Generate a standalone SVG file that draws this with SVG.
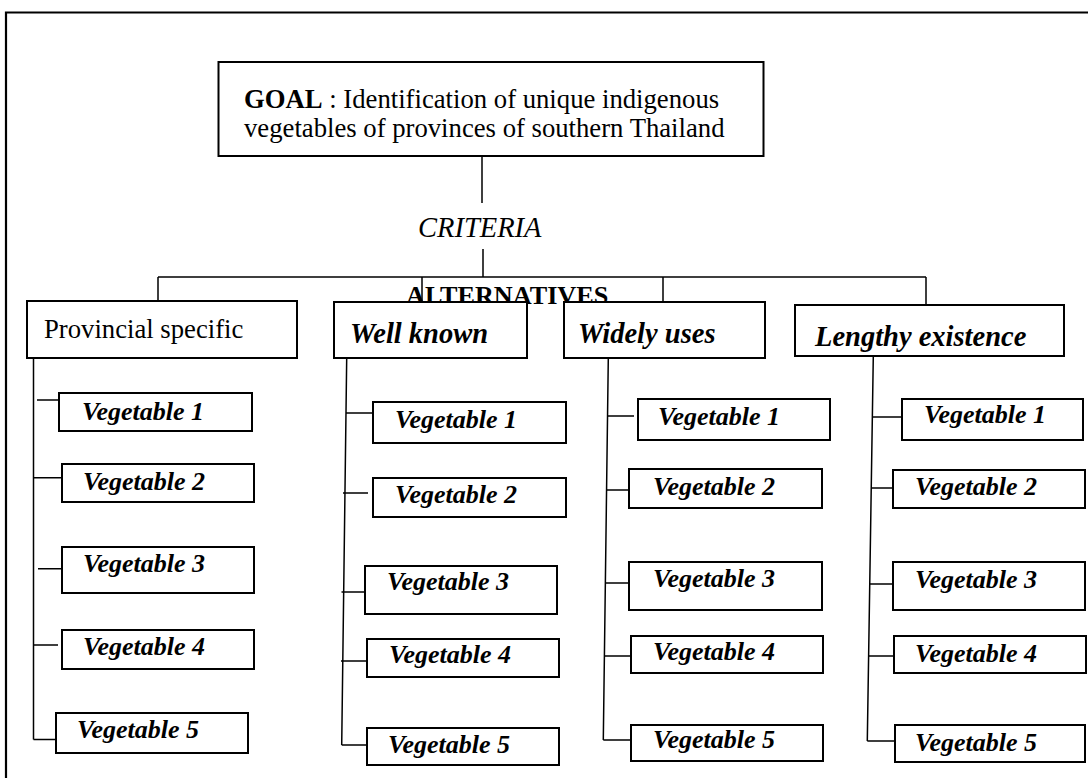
<svg xmlns="http://www.w3.org/2000/svg" width="1088" height="778" viewBox="0 0 1088 778">
<style>
.bx{fill:#fff;stroke:#000;stroke-width:2}
.ln{fill:none;stroke:#000;stroke-width:1.5}
.fr{fill:none;stroke:#000;stroke-width:2.2}
.t{font-family:"Liberation Serif","Times New Roman",serif;fill:#000}
.v{font-family:"Liberation Serif","Times New Roman",serif;font-weight:bold;font-style:italic;font-size:26px;fill:#000}
.h{font-family:"Liberation Serif","Times New Roman",serif;font-weight:bold;font-style:italic;font-size:28.5px;fill:#000}
</style>
<rect width="1088" height="778" fill="#fff"/>
<g id="frame">
<path class="fr" d="M6,778 V12.5 H1088"/>
</g>
<g id="goal">
<rect class="bx" x="218.5" y="62" width="545" height="94"/>
<text class="t" x="244" y="108" font-size="26.7"><tspan font-weight="bold">GOAL</tspan> : Identification of unique indigenous</text>
<text class="t" x="244" y="137" font-size="26.7">vegetables of provinces of southern Thailand</text>
</g>
<g id="criteria">
<text class="t" x="418" y="237" font-size="28.5" font-style="italic">CRITERIA</text>
</g>
<g id="alternatives">
<text class="t" x="406" y="304" font-size="26.2" font-weight="bold">ALTERNATIVES</text>
</g>
<g id="connectors">
<path class="ln" d="M482,156 V203 M483,249 V277 M158,277 H926 M158,277 V302 M422,277 V302 M663,277 V301 M926,277 V305"/>
<path class="ln" d="M33.5,358 V739.5 M37,400 H62 M33.5,477.7 H62 M38,568.7 H62 M33.5,645 H58 M33.5,739.5 H56"/>
<path class="ln" d="M346.7,358 L341.7,745 M346,413 H373 M343,493 H368 M341.5,592 H365 M341,661 H367 M341.7,745 H367"/>
<path class="ln" d="M608.3,358 L603.3,740 M607,416 H634 M606,490 H633 M605,583 H632 M604,656 H631 M603.3,740 H631"/>
<path class="ln" d="M873.3,356 L867.3,741 M872,417 H902 M871,488 H897 M870,584 H895 M869,656 H894 M867.3,741 H895"/>
</g>
<g id="provincial-specific">
<rect class="bx" x="27" y="301" width="270" height="57"/>
<text class="t" x="44" y="338" font-size="26.7">Provincial specific</text>
</g>
<g id="well-known">
<rect class="bx" x="334" y="302" width="193" height="56"/>
<text class="h" x="350" y="343">Well known</text>
</g>
<g id="widely-uses">
<rect class="bx" x="564" y="302" width="201" height="56"/>
<text class="h" x="578" y="343">Widely uses</text>
</g>
<g id="lengthy-existence">
<rect class="bx" x="795" y="305" width="269" height="51"/>
<text class="h" x="815" y="346">Lengthy existence</text>
</g>
<g id="ps-veg1"><rect class="bx" x="59" y="393" width="193" height="38"/><text class="v" x="82" y="420">Vegetable 1</text></g>
<g id="ps-veg2"><rect class="bx" x="62" y="464" width="192" height="38"/><text class="v" x="83" y="490">Vegetable 2</text></g>
<g id="ps-veg3"><rect class="bx" x="62" y="547" width="192" height="46"/><text class="v" x="83" y="572">Vegetable 3</text></g>
<g id="ps-veg4"><rect class="bx" x="62" y="630" width="192" height="39"/><text class="v" x="83" y="655">Vegetable 4</text></g>
<g id="ps-veg5"><rect class="bx" x="56" y="713" width="192" height="40"/><text class="v" x="77" y="738">Vegetable 5</text></g>
<g id="wk-veg1"><rect class="bx" x="373" y="402" width="193" height="41"/><text class="v" x="395" y="428">Vegetable 1</text></g>
<g id="wk-veg2"><rect class="bx" x="373" y="478" width="193" height="39"/><text class="v" x="395" y="503">Vegetable 2</text></g>
<g id="wk-veg3"><rect class="bx" x="365" y="566" width="192" height="48"/><text class="v" x="387" y="590">Vegetable 3</text></g>
<g id="wk-veg4"><rect class="bx" x="367" y="639" width="192" height="38"/><text class="v" x="389" y="663">Vegetable 4</text></g>
<g id="wk-veg5"><rect class="bx" x="367" y="728" width="192" height="37"/><text class="v" x="388" y="753">Vegetable 5</text></g>
<g id="wu-veg1"><rect class="bx" x="638" y="399" width="192" height="41"/><text class="v" x="658" y="425">Vegetable 1</text></g>
<g id="wu-veg2"><rect class="bx" x="629" y="469" width="193" height="39"/><text class="v" x="653" y="495">Vegetable 2</text></g>
<g id="wu-veg3"><rect class="bx" x="629" y="562" width="193" height="48"/><text class="v" x="653" y="587">Vegetable 3</text></g>
<g id="wu-veg4"><rect class="bx" x="631" y="636" width="192" height="37"/><text class="v" x="653" y="660">Vegetable 4</text></g>
<g id="wu-veg5"><rect class="bx" x="631" y="725" width="192" height="36"/><text class="v" x="653" y="748">Vegetable 5</text></g>
<g id="le-veg1"><rect class="bx" x="902" y="399" width="181" height="41"/><text class="v" x="924" y="423">Vegetable 1</text></g>
<g id="le-veg2"><rect class="bx" x="893" y="470" width="192" height="38"/><text class="v" x="915" y="495">Vegetable 2</text></g>
<g id="le-veg3"><rect class="bx" x="893" y="562" width="192" height="48"/><text class="v" x="915" y="588">Vegetable 3</text></g>
<g id="le-veg4"><rect class="bx" x="894" y="636" width="192" height="37"/><text class="v" x="915" y="662">Vegetable 4</text></g>
<g id="le-veg5"><rect class="bx" x="895" y="725" width="190" height="37"/><text class="v" x="915" y="751">Vegetable 5</text></g>
</svg>
